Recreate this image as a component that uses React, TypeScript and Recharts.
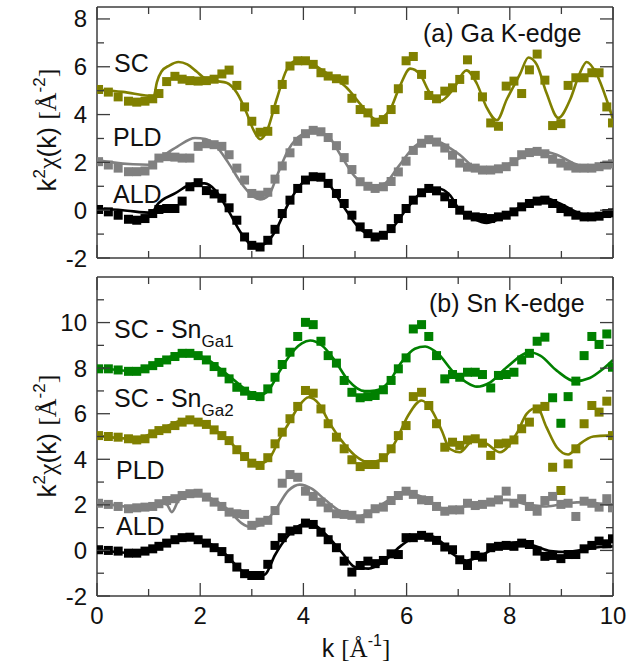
import { ComposedChart, Line, Scatter, XAxis, YAxis } from "recharts";

// k grid of the measured points (Å^-1)
const kGrid = [
  0.03, 0.22, 0.41, 0.61, 0.77, 0.93, 1.08, 1.2, 1.35, 1.51, 1.65, 1.8, 1.96, 2.12, 2.27, 2.42, 2.56,
  2.71, 2.86, 3.0, 3.16, 3.31, 3.45, 3.59, 3.74, 3.89, 4.04, 4.19, 4.34, 4.48, 4.64, 4.79, 4.94, 5.1,
  5.25, 5.39, 5.55, 5.7, 5.84, 5.99, 6.13, 6.29, 6.43, 6.58, 6.74, 6.89, 7.03, 7.18, 7.33, 7.47, 7.63,
  7.78, 7.93, 8.08, 8.23, 8.38, 8.53, 8.68, 8.83, 8.99, 9.13, 9.28, 9.44, 9.59, 9.73, 9.88, 9.99,
];

// (a) Ga K-edge, data (offset curves)
const gaSc = [
  5.05, 4.94, 4.74, 4.56, 4.52, 4.56, 4.66, 4.88, 5.38, 5.6, 5.48, 5.42, 5.4, 5.42, 5.48, 5.7, 5.86,
  5.22, 4.32, 3.72, 3.26, 3.3, 4.21, 5.26, 6.03, 6.25, 6.25, 6.1, 5.75, 5.61, 5.5, 5.44, 4.68, 4.21,
  4.07, 3.68, 3.79, 4.21, 5.08, 6.25, 6.43, 5.68, 4.8, 4.66, 4.98, 5.12, 5.47, 6.29, 5.64, 4.74, 3.65,
  3.51, 5.19, 5.4, 4.88, 5.87, 6.53, 5.44, 3.54, 3.62, 5.22, 5.54, 5.54, 5.75, 5.75, 4.32, 3.65,
];
const gaPld = [
  2.03, 1.89, 1.76, 1.61, 1.61, 1.64, 1.89, 2.18, 2.24, 2.22, 2.18, 2.18, 2.67, 2.78, 2.74, 2.67, 2.32,
  1.76, 1.26, 0.7, 0.63, 0.75, 1.3, 1.85, 2.4, 2.88, 3.2, 3.34, 3.28, 3.04, 2.7, 2.2, 1.7, 1.19,
  1.0, 0.91, 0.98, 1.2, 1.6, 2.05, 2.5, 2.8, 2.95, 2.85, 2.6, 2.3, 1.97, 1.8, 1.76, 1.68, 1.68,
  1.73, 1.82, 2.03, 2.32, 2.41, 2.46, 2.36, 2.13, 1.97, 1.85, 1.76, 1.76, 1.76, 1.82, 1.89, 1.94,
];
const gaAld = [
  0.03, -0.07, -0.21, -0.38, -0.42, -0.35, -0.14, 0.03, 0.07, 0.07, 0.38, 0.98, 1.15, 0.82, 0.68, 0.5, 0.1,
  -0.42, -1.12, -1.47, -1.54, -1.26, -0.8, -0.14, 0.42, 0.91, 1.26, 1.4, 1.38, 1.12, 0.7, 0.28, -0.21, -0.7,
  -0.98, -1.12, -1.05, -0.77, -0.35, 0.07, 0.42, 0.73, 0.91, 0.81, 0.56, 0.28, 0.0, -0.21, -0.28, -0.31, -0.35,
  -0.28, -0.21, -0.07, 0.14, 0.28, 0.38, 0.42, 0.28, 0.07, -0.07, -0.21, -0.28, -0.28, -0.25, -0.14, -0.11,
];

// (a) fits
const gaScFitK = [
  0, 0.5, 1.1, 1.16, 1.25, 1.4, 1.58, 1.75, 1.93, 2.1, 2.32, 2.51, 2.71, 2.9, 3.03, 3.16, 3.29, 3.48,
  3.68, 3.9, 4.13, 4.39, 4.64, 4.84, 5.1, 5.42, 5.68, 5.87, 6.07, 6.26, 6.45, 6.65, 6.9, 7.16, 7.36,
  7.55, 7.75, 7.94, 8.2, 8.36, 8.52, 8.71, 8.94, 9.17, 9.35, 9.49, 9.68, 9.88, 10,
];
const gaScFit = [
  5.05, 4.95, 4.78, 5.35, 5.8, 6.05, 6.2, 6.1, 5.8, 5.5, 5.4, 5.33, 4.91, 4.07, 3.37, 2.97, 3.3, 4.63,
  5.89, 6.29, 6.18, 5.82, 5.47, 5.12, 4.45, 3.79, 4.21, 5.19, 5.92, 5.68, 4.91, 4.56, 5.05, 5.85, 5.3,
  4.3, 3.76, 4.63, 5.7, 6.39, 6.1, 4.91, 3.86, 4.63, 5.7, 6.2, 5.7, 4.6, 3.8,
];
const gaPldFitK = [
  0, 0.3, 0.7, 1.0, 1.25, 1.55, 1.9, 2.1, 2.3, 2.54, 2.8, 3.0, 3.16, 3.32, 3.5, 3.71, 3.97, 4.22, 4.48,
  4.74, 5.0, 5.32, 5.58, 5.84, 6.16, 6.42, 6.68, 6.84, 7.03, 7.29, 7.55, 7.81, 8.2, 8.59, 8.91, 9.23,
  9.55, 9.88, 10,
];
const gaPldFit = [
  2.1, 2.0, 1.92, 1.9, 2.24, 2.65, 3.02, 2.98, 2.7, 2.0, 1.12, 0.63, 0.45, 0.6, 1.5, 2.53, 3.16, 3.3, 3.09,
  2.24, 1.4, 0.98, 1.12, 1.82, 2.67, 2.95, 2.81, 2.6, 2.32, 1.82, 1.61, 1.76, 2.18, 2.46, 2.32, 1.97,
  1.76, 1.82, 1.89,
];
const gaAldFitK = [
  0, 0.5, 1.06, 1.16, 1.51, 1.9, 2.09, 2.29, 2.54, 2.8, 3.06, 3.26, 3.45, 3.71, 3.97, 4.22, 4.48, 4.74,
  5.06, 5.39, 5.71, 6.03, 6.36, 6.61, 6.84, 7.03, 7.29, 7.55, 7.81, 8.2, 8.65, 8.97, 9.36, 9.68, 10,
];
const gaAldFit = [
  0.07, 0.0, -0.11, 0.21, 0.7, 1.12, 1.12, 0.84, 0.0, -0.98, -1.54, -1.4, -0.9, 0.28, 1.12, 1.4, 1.12, 0.28,
  -0.7, -1.12, -0.77, 0.14, 0.84, 0.91, 0.63, 0.0, -0.35, -0.53, -0.35, 0.14, 0.53, 0.28, -0.14, -0.25, -0.07,
];

// (b) Sn K-edge, data
const snScGa1 = [
  7.97, 7.97, 7.92, 7.86, 7.86, 7.97, 8.11, 8.25, 8.36, 8.51, 8.65, 8.65, 8.55, 8.36, 8.07, 7.82, 7.53,
  7.16, 6.99, 6.8, 6.75, 7.09, 7.6, 8.16, 8.7, 9.39, 10.01, 9.91, 9.18, 8.55, 8.22, 7.46, 6.94, 6.7,
  6.75, 6.8, 7.05, 7.46, 7.97, 8.45, 9.72, 9.91, 9.39, 8.55, 7.53, 7.72, 7.6, 7.82, 7.82, 7.72, 7.13,
  7.68, 7.72, 7.82, 8.36, 8.65, 9.18, 9.36, 6.7, 5.58, 6.75, 7.43, 8.55, 9.39, 9.04, 9.5, 8.04,
];
const snScGa2 = [
  5.04, 5.0, 4.97, 4.9, 4.85, 4.9, 5.12, 5.26, 5.34, 5.48, 5.63, 5.73, 5.63, 5.53, 5.29, 5.04, 4.82,
  4.42, 4.12, 3.83, 3.73, 4.07, 4.68, 5.19, 5.78, 6.32, 7.02, 6.9, 6.21, 5.56, 4.97, 4.46, 3.98, 3.68,
  3.77, 3.77, 4.07, 4.46, 5.04, 5.48, 6.75, 6.94, 6.36, 5.56, 4.53, 4.75, 4.61, 4.85, 4.9, 4.71, 4.17,
  4.68, 4.71, 4.85, 5.34, 5.63, 6.21, 6.32, 3.65, 2.63, 3.8, 4.46, 5.56, 6.36, 6.07, 6.55, 5.04,
];
const snPld = [
  2.07, 2.02, 1.93, 1.83, 1.87, 1.9, 1.93, 2.05, 2.19, 2.27, 2.41, 2.49, 2.51, 2.34, 2.12, 1.93, 1.68,
  1.61, 1.58, 1.1, 1.24, 1.32, 1.75, 2.95, 3.33, 3.21, 2.6, 2.37, 2.12, 1.87, 1.61, 1.58, 1.54, 1.39,
  1.61, 1.83, 1.9, 2.19, 2.41, 2.6, 2.46, 2.22, 2.19, 1.93, 1.72, 1.78, 1.78, 2.07, 1.97, 2.02, 2.12,
  2.22, 2.6, 2.07, 2.27, 1.93, 1.72, 2.19, 2.37, 2.02, 2.07, 1.49, 2.16, 2.07, 1.9, 2.27, 1.87,
];
const snAld = [
  0.03, 0.0, -0.03, -0.12, -0.12, -0.03, 0.07, 0.18, 0.32, 0.47, 0.56, 0.58, 0.47, 0.32, 0.12, -0.05, -0.36,
  -0.73, -1.02, -1.1, -1.1, -0.61, 0.22, 0.56, 0.85, 0.91, 1.2, 1.14, 0.8, 0.47, 0.12, -0.47, -0.95, -0.66,
  -0.47, -0.58, -0.44, -0.15, -0.18, 0.56, 0.56, 0.66, 0.58, 0.44, 0.15, 0.03, -0.41, -0.66, -0.22, -0.29, 0.12,
  0.18, 0.22, 0.18, 0.32, 0.26, -0.03, -0.26, -0.22, -0.36, -0.18, -0.18, 0.07, 0.22, 0.41, 0.29, 0.51,
];

// (b) fits
const snGa1FitK = [
  0, 0.74, 1.25, 1.77, 2.09, 2.55, 2.93, 3.13, 3.32, 3.55, 3.71, 3.97, 4.13, 4.36, 4.61, 4.87, 5.19, 5.39,
  5.65, 5.9, 6.16, 6.36, 6.61, 6.91, 7.16, 7.36, 7.62, 7.94, 8.39, 8.59, 8.91, 9.26, 9.55, 9.81, 10,
];
const snGa1Fit = [
  8.04, 7.86, 8.36, 8.65, 8.45, 7.68, 6.99, 6.8, 7.02, 7.9, 8.48, 9.09, 9.21, 8.99, 8.33, 7.46, 6.99, 7.02,
  7.38, 8.26, 8.85, 8.95, 8.63, 7.82, 7.38, 7.19, 7.38, 8.04, 8.7, 8.55, 7.89, 7.43, 7.57, 7.97, 8.36,
];
const snGa2FitK = [
  0, 0.74, 1.25, 1.77, 2.09, 2.55, 2.93, 3.13, 3.32, 3.55, 3.71, 3.9, 4.1, 4.3, 4.48, 4.74, 5.0, 5.26,
  5.52, 5.78, 6.03, 6.29, 6.49, 6.68, 6.84, 7.03, 7.29, 7.55, 7.81, 8.13, 8.33, 8.53, 8.71, 8.91, 9.13,
  9.36, 9.62, 9.88, 10,
];
const snGa2Fit = [
  5.04, 4.9, 5.34, 5.78, 5.56, 4.82, 3.98, 3.8, 3.98, 4.95, 5.56, 6.29, 6.72, 6.43, 5.7, 4.82, 4.17, 3.87,
  3.98, 4.75, 5.92, 6.58, 6.14, 5.26, 4.45, 4.31, 4.82, 4.68, 4.31, 5.12, 6.0, 6.26, 5.41, 4.53, 4.21,
  4.68, 5.0, 5.04, 5.04,
];
const snPldFitK = [
  0, 0.74, 1.22, 1.35, 1.45, 1.58, 1.9, 2.16, 2.55, 2.8, 3.0, 3.19, 3.45, 3.71, 3.93, 4.16, 4.42, 4.74,
  5.03, 5.32, 5.65, 5.97, 6.23, 6.55, 6.84, 6.97, 7.29, 7.62, 7.94, 8.33, 8.71, 9.1, 9.49, 9.88, 10,
];
const snPldFit = [
  2.12, 1.9, 2.07, 2.02, 1.68, 2.19, 2.51, 2.34, 1.78, 1.2, 1.02, 1.14, 1.75, 2.63, 2.89, 2.71, 2.22, 1.68,
  1.46, 1.75, 2.19, 2.51, 2.41, 2.02, 1.72, 1.83, 2.02, 2.16, 2.22, 2.02, 1.93, 2.07, 2.12, 2.02, 2.02,
];
const snAldFitK = [
  0, 0.74, 1.25, 1.77, 2.09, 2.48, 2.8, 3.06, 3.26, 3.45, 3.71, 3.97, 4.16, 4.42, 4.74, 5.0, 5.26, 5.58,
  5.9, 6.16, 6.42, 6.68, 6.91, 7.16, 7.42, 7.75, 8.13, 8.46, 8.79, 9.1, 9.42, 9.75, 10,
];
const snAldFit = [
  0.03, -0.12, 0.22, 0.58, 0.41, -0.15, -0.88, -1.17, -1.05, -0.2, 0.66, 1.14, 1.17, 0.73, -0.07, -0.73,
  -0.8, -0.44, 0.22, 0.58, 0.66, 0.36, -0.18, -0.44, -0.26, 0.15, 0.36, 0.22, -0.03, -0.07, 0.03, 0.15, 0.18,
];

const xTicks = [0, 1, 2, 3, 4, 5, 6, 7, 8, 9, 10];
const yTicksA = [-2, -1, 0, 1, 2, 3, 4, 5, 6, 7, 8];
const yTicksB = [-2, -1, 0, 1, 2, 3, 4, 5, 6, 7, 8, 9, 10, 11];

const OLIVE = "#808000";
const GRAY = "#808080";
const GREEN = "#008000";
const BLACK = "#000000";
const FRAME = "#3c3c3c";
const SANS = "'Liberation Sans', Arial, Helvetica, sans-serif";
const SERIF = "'Liberation Serif', 'Times New Roman', serif";

const pts = (ks: number[], ys: number[]) => ks.map((k, i) => ({ k, chi: ys[i] }));

function Square(props: any) {
  const { cx, cy, fill } = props;
  if (cx == null || cy == null) return null;
  return <rect x={cx - 4.5} y={cy - 4.5} width={9} height={9} fill={fill} />;
}

function makeTick(side: "bottom" | "top" | "left" | "right", labels: boolean) {
  return (props: any) => {
    const { x, y, payload } = props;
    const v = payload.value as number;
    const major = Math.abs(v % 2) < 1e-6;
    const len = major ? 13 : 7;
    let line;
    if (side === "bottom") line = <line x1={x} y1={y} x2={x} y2={y - len} stroke={FRAME} strokeWidth={1.3} />;
    else if (side === "top") line = <line x1={x} y1={y} x2={x} y2={y + len} stroke={FRAME} strokeWidth={1.3} />;
    else if (side === "left") line = <line x1={x} y1={y} x2={x + len} y2={y} stroke={FRAME} strokeWidth={1.3} />;
    else line = <line x1={x} y1={y} x2={x - len} y2={y} stroke={FRAME} strokeWidth={1.3} />;
    let label = null;
    if (labels && major) {
      if (side === "bottom")
        label = (
          <text x={x} y={y + 28} textAnchor="middle" fontSize={24} fontFamily={SANS} fill="#111">
            {v}
          </text>
        );
      else if (side === "left")
        label = (
          <text x={x - 10} y={y + 8.5} textAnchor="end" fontSize={24} fontFamily={SANS} fill="#111">
            {v}
          </text>
        );
    }
    return (
      <g>
        {line}
        {label}
      </g>
    );
  };
}

interface PanelProps {
  top: number;
  height: number;
  topAxis: number;
  bottomAxis: number;
  yDomain: [number, number];
  yTicks: number[];
  xLabels: boolean;
  data: { values: number[]; color: string }[];
  fits: { k: number[]; values: number[]; color: string }[];
}

function Panel({ top, height, topAxis, bottomAxis, yDomain, yTicks, xLabels, data, fits }: PanelProps) {
  return (
    <div style={{ position: "absolute", left: 0, top }}>
      <ComposedChart width={631} height={height} margin={{ top: 0, right: 0, bottom: 0, left: 0 }}>
        <XAxis
          xAxisId="b"
          type="number"
          dataKey="k"
          domain={[0, 10]}
          ticks={xTicks}
          interval={0}
          height={bottomAxis}
          tickSize={0}
          tickMargin={0}
          tickLine={false}
          axisLine={{ stroke: FRAME, strokeWidth: 1.5 }}
          tick={makeTick("bottom", xLabels)}
          allowDataOverflow
        />
        <XAxis
          xAxisId="t"
          orientation="top"
          type="number"
          dataKey="k"
          domain={[0, 10]}
          ticks={xTicks}
          interval={0}
          height={topAxis}
          tickSize={0}
          tickMargin={0}
          tickLine={false}
          axisLine={{ stroke: FRAME, strokeWidth: 1.5 }}
          tick={makeTick("top", false)}
          allowDataOverflow
        />
        <YAxis
          yAxisId="l"
          type="number"
          dataKey="chi"
          domain={yDomain}
          ticks={yTicks}
          interval={0}
          width={97}
          tickSize={0}
          tickMargin={0}
          tickLine={false}
          axisLine={{ stroke: FRAME, strokeWidth: 1.5 }}
          tick={makeTick("left", true)}
          allowDataOverflow
        />
        <YAxis
          yAxisId="r"
          orientation="right"
          type="number"
          dataKey="chi"
          domain={yDomain}
          ticks={yTicks}
          interval={0}
          width={18}
          tickSize={0}
          tickMargin={0}
          tickLine={false}
          axisLine={{ stroke: FRAME, strokeWidth: 1.5 }}
          tick={makeTick("right", false)}
          allowDataOverflow
        />
        {data.map((d, i) => (
          <Scatter
            key={"s" + i}
            xAxisId="b"
            yAxisId="l"
            data={pts(kGrid, d.values)}
            dataKey="chi"
            fill={d.color}
            shape={Square}
            isAnimationActive={false}
          />
        ))}
        {fits.map((f, i) => (
          <Line
            key={"f" + i}
            xAxisId="b"
            yAxisId="l"
            data={pts(f.k, f.values)}
            dataKey="chi"
            type="monotone"
            stroke={f.color}
            strokeWidth={2.6}
            dot={false}
            activeDot={false}
            isAnimationActive={false}
          />
        ))}
      </ComposedChart>
    </div>
  );
}

function YLabel({ cx, cy }: { cx: number; cy: number }) {
  return (
    <text
      x={cx}
      y={cy}
      transform={`rotate(-90 ${cx} ${cy})`}
      textAnchor="middle"
      fontSize={26}
      fontFamily={SANS}
      fill="#111"
    >
      k
      <tspan fontSize={17} dy={-11}>2</tspan>
      <tspan dy={11} fontFamily={SERIF} fontStyle="normal">χ</tspan>
      <tspan>(k) </tspan>
      <tspan fontFamily={SERIF}>[Å</tspan>
      <tspan fontSize={17} dy={-11}>-2</tspan>
      <tspan fontFamily={SERIF} dy={11}>]</tspan>
    </text>
  );
}

export default function App() {
  const txt = { fontSize: 25, fontFamily: SANS, fill: "#111" };
  return (
    <div style={{ position: "absolute", left: 0, top: 0, width: 631, height: 668, background: "#fff" }}>
      <Panel
        top={0}
        height={280}
        topAxis={7}
        bottomAxis={22}
        yDomain={[-2, 8.5]}
        yTicks={yTicksA}
        xLabels={false}
        data={[
          { values: gaSc, color: OLIVE },
          { values: gaPld, color: GRAY },
          { values: gaAld, color: BLACK },
        ]}
        fits={[
          { k: gaScFitK, values: gaScFit, color: OLIVE },
          { k: gaPldFitK, values: gaPldFit, color: GRAY },
          { k: gaAldFitK, values: gaAldFit, color: BLACK },
        ]}
      />
      <Panel
        top={268}
        height={400}
        topAxis={9}
        bottomAxis={72}
        yDomain={[-2, 12]}
        yTicks={yTicksB}
        xLabels={true}
        data={[
          { values: snScGa1, color: GREEN },
          { values: snScGa2, color: OLIVE },
          { values: snPld, color: GRAY },
          { values: snAld, color: BLACK },
        ]}
        fits={[
          { k: snGa1FitK, values: snGa1Fit, color: GREEN },
          { k: snGa2FitK, values: snGa2Fit, color: OLIVE },
          { k: snPldFitK, values: snPldFit, color: GRAY },
          { k: snAldFitK, values: snAldFit, color: BLACK },
        ]}
      />
      <svg
        width={631}
        height={668}
        style={{ position: "absolute", left: 0, top: 0, pointerEvents: "none" }}
      >
        <text x={114} y={72} {...txt}>SC</text>
        <text x={113} y={146} {...txt}>PLD</text>
        <text x={113} y={203} {...txt}>ALD</text>
        <text x={423} y={42} {...txt}>(a) Ga K-edge</text>

        <text x={114} y={338} {...txt}>
          SC - Sn<tspan fontSize={17} dy={9}>Ga1</tspan>
        </text>
        <text x={114} y={407} {...txt}>
          SC - Sn<tspan fontSize={17} dy={9}>Ga2</tspan>
        </text>
        <text x={116} y={479} {...txt}>PLD</text>
        <text x={116} y={535} {...txt}>ALD</text>
        <text x={429} y={312} {...txt}>(b) Sn K-edge</text>

        <YLabel cx={56} cy={130} />
        <YLabel cx={56} cy={436} />

        <text x={356} y={657} textAnchor="middle" {...txt}>
          k <tspan fontFamily={SERIF}>[Å</tspan>
          <tspan fontSize={16} dy={-11}>-1</tspan>
          <tspan fontFamily={SERIF} dy={11}>]</tspan>
        </text>
      </svg>
    </div>
  );
}
